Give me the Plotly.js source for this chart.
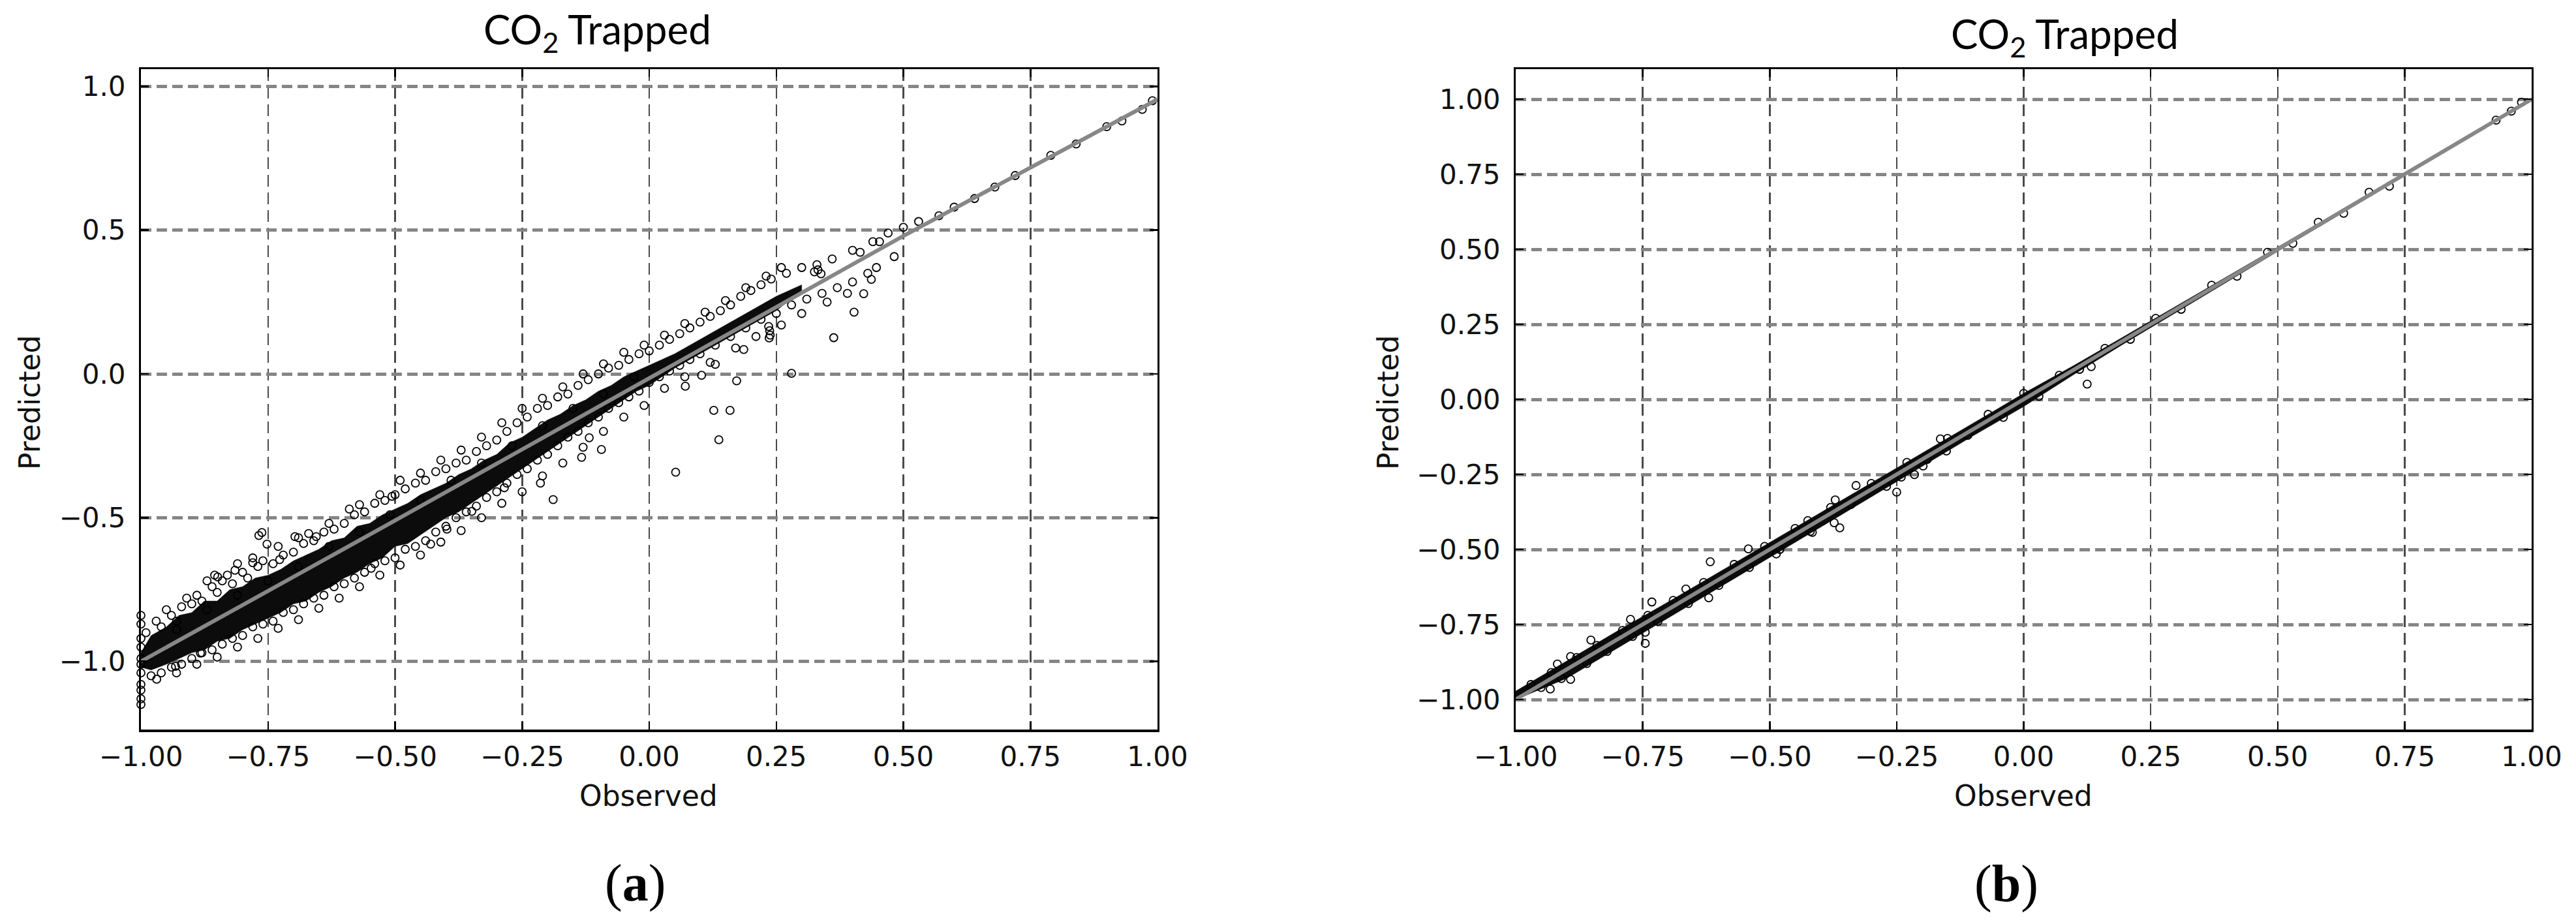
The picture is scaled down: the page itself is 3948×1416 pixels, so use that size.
<!DOCTYPE html>
<html>
<head>
<meta charset="utf-8">
<script src="https://cdn.plot.ly/plotly-3.0.1.min.js"></script>
<style>html,body{margin:0;padding:0;background:#fff;}#chart{width:3948px;height:1416px;}</style>
</head>
<body>
<div id="chart"></div>
<script>
// ---------------- DATA ----------------
const xTickVals = [-1.00, -0.75, -0.50, -0.25, 0.00, 0.25, 0.50, 0.75, 1.00];
const yTickValsA = [-1.0, -0.5, 0.0, 0.5, 1.0];
const yTickValsB = [-1.00, -0.75, -0.50, -0.25, 0.00, 0.25, 0.50, 0.75, 1.00];

// (a) dense core of the point cloud: observed, upper and lower predicted envelope
const coreObsA   = [-1.00, -0.98, -0.95, -0.925, -0.90, -0.875, -0.85, -0.825, -0.80, -0.775, -0.75, -0.725, -0.70, -0.675, -0.65, -0.625, -0.60, -0.575, -0.55, -0.525, -0.50, -0.475, -0.45, -0.425, -0.40, -0.375, -0.35, -0.325, -0.30, -0.275, -0.25, -0.225, -0.20, -0.175, -0.15, -0.125, -0.10, -0.075, -0.05, -0.025, 0.00, 0.05, 0.10, 0.15, 0.20, 0.25, 0.30];
const coreUpperA = [-0.97, -0.91, -0.88, -0.84, -0.83, -0.79, -0.79, -0.75, -0.74, -0.71, -0.70, -0.68, -0.65, -0.63, -0.61, -0.58, -0.57, -0.53, -0.52, -0.49, -0.47, -0.45, -0.42, -0.40, -0.38, -0.35, -0.33, -0.30, -0.28, -0.24, -0.22, -0.19, -0.16, -0.14, -0.11, -0.09, -0.06, -0.04, -0.01, 0.01, 0.03, 0.07, 0.12, 0.17, 0.22, 0.27, 0.31];
const coreLowerA = [-1.02, -1.03, -1.01, -0.99, -0.97, -0.96, -0.93, -0.92, -0.89, -0.87, -0.85, -0.83, -0.80, -0.79, -0.76, -0.74, -0.71, -0.69, -0.66, -0.64, -0.60, -0.59, -0.56, -0.53, -0.50, -0.48, -0.45, -0.42, -0.39, -0.36, -0.33, -0.30, -0.27, -0.24, -0.21, -0.18, -0.15, -0.12, -0.09, -0.06, -0.04, 0.02, 0.07, 0.12, 0.17, 0.22, 0.29];

// (a) points along the upper side of the cloud [observed, predicted]
const upperPtsA = [[-0.99,-0.90],[-0.97,-0.86],[-0.96,-0.88],[-0.94,-0.84],[-0.93,-0.86],[-0.92,-0.81],[-0.90,-0.80],[-0.89,-0.77],[-0.88,-0.79],[-0.86,-0.74],[-0.85,-0.76],[-0.84,-0.72],[-0.83,-0.70],[-0.82,-0.73],[-0.80,-0.69],[-0.79,-0.71],[-0.77,-0.67],[-0.76,-0.65],[-0.74,-0.66],[-0.72,-0.63],[-0.70,-0.62],[-0.68,-0.59],[-0.66,-0.58],[-0.64,-0.55],[-0.62,-0.54],[-0.60,-0.52],[-0.58,-0.49],[-0.56,-0.48],[-0.54,-0.45],[-0.52,-0.44],[-0.50,-0.42],[-0.48,-0.40],[-0.46,-0.38],[-0.44,-0.37],[-0.42,-0.34],[-0.40,-0.33],[-0.38,-0.31],[-0.36,-0.30],[-0.34,-0.27],[-0.32,-0.25],[-0.30,-0.23],[-0.28,-0.20],[-0.26,-0.17],[-0.24,-0.15],[-0.22,-0.12],[-0.20,-0.11],[-0.18,-0.08],[-0.16,-0.07],[-0.14,-0.04],[-0.12,-0.02],[-0.10,0.00],[-0.08,0.02],[-0.06,0.03],[-0.04,0.05],[-0.02,0.07],[0.00,0.08],[0.02,0.10],[0.04,0.12],[0.06,0.14],[0.08,0.16],[0.10,0.18],[0.12,0.20],[0.14,0.22],[0.16,0.24],[0.18,0.27],[0.20,0.29],[0.22,0.31],[0.24,0.33],[0.27,0.35],[0.30,0.37],[0.33,0.38],[0.36,0.40],[0.40,0.43],[0.44,0.46],[0.47,0.49],[0.50,0.51],[0.53,0.53],[0.57,0.55],[0.60,0.58],[0.64,0.61],[0.68,0.65],[0.72,0.69],[0.79,0.76],[0.84,0.80],[0.90,0.86],[0.93,0.88],[0.97,0.92],[0.99,0.95]];

// (a) further-out points on the upper side and inside the cloud
const scatterPtsA = [[-0.95,-0.82],[-0.91,-0.78],[-0.87,-0.72],[-0.855,-0.70],[-0.81,-0.66],[-0.78,-0.64],[-0.73,-0.60],[-0.69,-0.57],[-0.67,-0.555],[-0.63,-0.52],[-0.59,-0.47],[-0.57,-0.455],[-0.53,-0.42],[-0.49,-0.37],[-0.45,-0.345],[-0.41,-0.30],[-0.37,-0.265],[-0.33,-0.22],[-0.29,-0.17],[-0.25,-0.12],[-0.21,-0.085],[-0.17,-0.045],[-0.13,0.0],[-0.09,0.035],[-0.05,0.075],[-0.01,0.10],[0.03,0.135],[0.07,0.175],[0.11,0.215],[0.15,0.255],[0.19,0.30],[0.23,0.34],[0.26,0.37],
  [-0.93,-0.89],[-0.87,-0.82],[-0.81,-0.77],[-0.75,-0.72],[-0.69,-0.67],[-0.63,-0.60],[-0.57,-0.55],[-0.51,-0.49],[-0.45,-0.44],[-0.39,-0.37],[-0.33,-0.31],[-0.27,-0.25],[-0.21,-0.18],[-0.15,-0.12],[-0.09,-0.07],[-0.03,-0.01],
  [-0.93,-1.04],[-0.89,-1.01],[-0.85,-0.985],[-0.81,-0.95],[-0.77,-0.92],[-0.73,-0.885],[-0.69,-0.855],[-0.65,-0.815],[-0.61,-0.78],[-0.57,-0.74],[-0.53,-0.70],[-0.49,-0.665],[-0.45,-0.63],[-0.41,-0.585],[-0.37,-0.545],[-0.33,-0.50],[-0.29,-0.45],[-0.25,-0.41],[-0.21,-0.355],[-0.17,-0.31],[-0.13,-0.255],[-0.09,-0.20],[-0.05,-0.15],[-0.01,-0.11],[0.03,-0.05],[0.07,-0.01],[0.12,0.04],[0.17,0.09],[0.21,0.13],[0.26,0.17],[0.30,0.21],[0.35,0.25],[0.39,0.28]];

// (a) points along the lower side of the cloud
const lowerPtsA = [[-0.98,-1.05],[-0.96,-1.04],[-0.94,-1.02],[-0.92,-1.01],[-0.90,-0.99],[-0.88,-0.97],[-0.86,-0.96],[-0.84,-0.94],[-0.82,-0.92],[-0.80,-0.91],[-0.78,-0.88],[-0.76,-0.87],[-0.74,-0.86],[-0.72,-0.83],[-0.70,-0.82],[-0.68,-0.80],[-0.66,-0.78],[-0.64,-0.77],[-0.62,-0.74],[-0.60,-0.73],[-0.58,-0.71],[-0.56,-0.69],[-0.54,-0.66],[-0.52,-0.65],[-0.50,-0.64],[-0.48,-0.61],[-0.46,-0.60],[-0.44,-0.58],[-0.42,-0.55],[-0.40,-0.53],[-0.38,-0.50],[-0.36,-0.48],[-0.34,-0.46],[-0.32,-0.43],[-0.30,-0.41],[-0.28,-0.38],[-0.26,-0.35],[-0.24,-0.33],[-0.22,-0.30],[-0.20,-0.28],[-0.18,-0.25],[-0.16,-0.22],[-0.14,-0.20],[-0.12,-0.17],[-0.10,-0.15],[-0.08,-0.12],[-0.06,-0.10],[-0.04,-0.08],[-0.02,-0.06],[0.00,-0.03],[0.02,-0.01],[0.04,0.01],[0.06,0.03],[0.08,0.05],[0.10,0.07],[0.13,0.10],[0.16,0.13],[0.19,0.16],[0.22,0.19],[0.25,0.21],[0.28,0.24],[0.31,0.26],[0.34,0.28],[0.37,0.30],[0.40,0.32],[0.43,0.35],
  [0.235,0.165],[0.237,0.150],[0.238,0.135],[0.236,0.125],[0.325,0.355],[0.332,0.362],[0.338,0.348]];

// (a) points lying off the cloud
const outlierPtsA = [[0.363,0.126],[0.403,0.215],[0.422,0.279],[0.437,0.329],[0.447,0.370],[0.415,0.423],[0.453,0.460],[0.482,0.408],[0.280,0.002],[0.130,0.033],[0.103,-0.005],[0.172,-0.024],[0.071,-0.043],[0.127,-0.127],[0.159,-0.127],[0.137,-0.229],[0.186,0.085],[0.052,-0.342],[-0.214,-0.380],[-0.189,-0.437],[-0.133,-0.290],[-0.094,-0.263],[-0.118,-0.222],[-0.768,-0.562],[-0.762,-0.552],[-0.752,-0.592],[-0.697,-0.566],[-0.655,-0.566],[-0.780,-0.657],[-0.815,-0.683],[-0.849,-0.706],[-0.727,-0.646],[-0.547,-0.676],[-0.506,-0.426],[-0.430,-0.592],[-0.398,-0.540],[-0.349,-0.478],[-0.285,-0.396],[-0.969,-1.062],[-0.883,-0.971],[-0.932,-1.017]];

// (a) points at observed = -1
const edgeObsA  = [-1.0, -1.0, -1.0, -1.0, -1.0, -1.0, -1.0, -1.0, -1.0, -1.0, -1.0];
const edgePredA = [-0.84, -0.87, -0.92, -0.95, -0.99, -1.01, -1.04, -1.08, -1.10, -1.13, -1.15];

// (a) reference line
const lineObsA  = [-1.0, -0.5, 0.5, 1.0];
const linePredA = [-1.0, -0.51, 0.48, 0.955];

// (b) dense core
const coreObsB   = [-1.00, -0.90, -0.80, -0.70, -0.60, -0.50, -0.40, -0.30, -0.20, -0.10, 0.00, 0.10, 0.20, 0.30, 0.40, 0.50, 0.60, 0.70, 0.75];
const coreUpperB = [-0.972, -0.872, -0.772, -0.675, -0.576, -0.476, -0.378, -0.278, -0.180, -0.080, 0.020, 0.114, 0.212, 0.310, 0.409, 0.507, 0.606, 0.706, 0.754];
const coreLowerB = [-1.000, -0.930, -0.830, -0.728, -0.628, -0.527, -0.426, -0.325, -0.224, -0.122, -0.024, 0.084, 0.188, 0.290, 0.391, 0.493, 0.594, 0.694, 0.746];

// (b) points at the sides of the cloud
const sidePtsB = [[-0.97,-0.95],[-0.95,-0.96],[-0.93,-0.91],[-0.91,-0.93],[-0.88,-0.86],[-0.86,-0.88],[-0.84,-0.82],[-0.82,-0.84],[-0.79,-0.77],[-0.77,-0.79],[-0.74,-0.72],[-0.72,-0.74],[-0.69,-0.67],[-0.66,-0.68],[-0.63,-0.61],[-0.60,-0.62],[-0.57,-0.55],[-0.54,-0.56],[-0.51,-0.49],[-0.48,-0.50],[-0.45,-0.43],[-0.42,-0.44],[-0.38,-0.36],[-0.34,-0.35],[-0.30,-0.28],[-0.27,-0.29],[-0.23,-0.21],[-0.19,-0.20],[-0.15,-0.13],[-0.11,-0.12],[-0.07,-0.05],[-0.04,-0.06],[0.00,0.02],[0.03,0.01],[0.07,0.08],[0.11,0.10],[0.16,0.17],[0.21,0.20],[0.26,0.27],[0.31,0.30],[0.37,0.38],[0.42,0.41],[0.48,0.49],[0.53,0.52],[0.58,0.59],[0.63,0.62],[0.68,0.69],[0.72,0.71],[0.93,0.93],[0.96,0.96],[0.98,0.99]];

// (b) points lying off the cloud
const outlierPtsB = [[-0.164,-0.132],[-0.152,-0.172],[-0.198,-0.222],[-0.215,-0.251],[-0.250,-0.309],[-0.241,-0.259],[-0.330,-0.287],[-0.371,-0.335],[-0.373,-0.411],[-0.362,-0.428],[-0.425,-0.404],[-0.416,-0.443],[-0.487,-0.515],[-0.542,-0.498],[-0.617,-0.541],[-0.620,-0.661],[-0.665,-0.632],[-0.732,-0.675],[-0.745,-0.776],[-0.745,-0.813],[-0.774,-0.733],[-0.852,-0.802],[-0.892,-0.857],[-0.932,-0.965],[-0.918,-0.882],[-0.892,-0.933],[0.125,0.051],[0.133,0.109]];

// (b) reference line
const lineObsB  = [-1.0, 1.0];
const linePredB = [-1.0, 1.0];

// ---------------- STYLES ----------------
const ptMarker = {symbol: 'circle-open', size: 12, color: '#000', line: {width: 1.8, color: '#000'}};
const refLine = {color: '#878787', width: 6};
const coreFill = '#0c0c0c';

function band(obs, up, low) {
  return {x: obs.concat(obs.slice().reverse()), y: up.concat(low.slice().reverse())};
}
const bA = band(coreObsA, coreUpperA, coreLowerA);
const bB = band(coreObsB, coreUpperB, coreLowerB);
const ptsA = upperPtsA.concat(scatterPtsA, lowerPtsA, outlierPtsA);
const ptsB = sidePtsB.concat(outlierPtsB);

const traces = [
  {type: 'scatter', mode: 'lines', x: bA.x, y: bA.y, fill: 'toself', fillcolor: coreFill, line: {width: 0.5, color: coreFill}, xaxis: 'x', yaxis: 'y', hoverinfo: 'skip'},
  {type: 'scatter', mode: 'markers', x: ptsA.map(p => p[0]), y: ptsA.map(p => p[1]), marker: ptMarker, xaxis: 'x', yaxis: 'y'},
  {type: 'scatter', mode: 'markers', x: edgeObsA, y: edgePredA, marker: ptMarker, xaxis: 'x', yaxis: 'y', cliponaxis: false},
  {type: 'scatter', mode: 'lines', x: lineObsA, y: linePredA, line: refLine, xaxis: 'x', yaxis: 'y'},

  {type: 'scatter', mode: 'lines', x: bB.x, y: bB.y, fill: 'toself', fillcolor: coreFill, line: {width: 0.5, color: coreFill}, xaxis: 'x2', yaxis: 'y2', hoverinfo: 'skip'},
  {type: 'scatter', mode: 'markers', x: ptsB.map(p => p[0]), y: ptsB.map(p => p[1]), marker: ptMarker, xaxis: 'x2', yaxis: 'y2'},
  {type: 'scatter', mode: 'lines', x: lineObsB, y: linePredB, line: refLine, xaxis: 'x2', yaxis: 'y2'}
];

const W = 3948, H = 1416;
const tickFont = {family: 'DejaVu Sans', size: 42, color: '#111'};
function xAxis(domain, anchor) {
  return {domain: domain, anchor: anchor, range: [-1, 1], tickmode: 'array', tickvals: xTickVals, tickformat: '.2f',
    showgrid: true, gridcolor: '#4a4a4a', gridwidth: 2.5, griddash: '18px,9px', zeroline: false,
    showline: true, linecolor: '#000', linewidth: 3.5, mirror: 'ticks',
    ticks: 'inside', ticklen: 12, tickwidth: 2.5, tickcolor: '#000', tickfont: tickFont, ticklabelstandoff: 2};
}
function yAxis(domain, anchor, range, vals, fmt) {
  return {domain: domain, anchor: anchor, range: range, tickmode: 'array', tickvals: vals, tickformat: fmt,
    showgrid: true, gridcolor: '#858585', gridwidth: 5, griddash: '16px,8px', zeroline: false,
    showline: true, linecolor: '#000', linewidth: 3, mirror: 'ticks',
    ticks: 'inside', ticklen: 12, tickwidth: 2.5, tickcolor: '#000', tickfont: tickFont, ticklabelstandoff: 12};
}
const yDom = [1 - 1118 / H, 1 - 106 / H];

const ann = (text, px, py, font, angle) => ({text: text, x: px / W, y: 1 - py / H, xref: 'paper', yref: 'paper',
  xanchor: 'center', yanchor: 'middle', showarrow: false, font: font, textangle: angle || 0});
const titleFont = {family: 'Lato', size: 62, color: '#000'};
const labelFont = {family: 'DejaVu Sans', size: 44, color: '#111'};
const panelFont = {family: 'Liberation Serif', size: 80, color: '#000'};

const layout = {
  width: W, height: H, margin: {l: 0, r: 0, t: 0, b: 0}, paper_bgcolor: '#fff', plot_bgcolor: '#fff',
  showlegend: false,
  xaxis: xAxis([216 / W, 1774 / W], 'y'),
  yaxis: yAxis(yDom, 'x', [-1.237, 1.06], yTickValsA, '.1f'),
  xaxis2: xAxis([2323 / W, 3880 / W], 'y2'),
  yaxis2: yAxis(yDom, 'x2', [-1.1, 1.1], yTickValsB, '.2f'),
  annotations: [
    ann('CO<sub>2</sub> Trapped', 915, 48, titleFont),
    ann('CO<sub>2</sub> Trapped', 3164, 56, titleFont),
    ann('Predicted', 45, 617, labelFont, -90),
    ann('Predicted', 2127, 617, labelFont, -90),
    ann('Observed', 994, 1219, labelFont),
    ann('Observed', 3101, 1219, labelFont),
    ann('(<b>a</b>)', 973, 1353, panelFont),
    ann('(<b>b</b>)', 3075, 1354, panelFont)
  ]
};

Plotly.newPlot('chart', traces, layout, {staticPlot: true, displayModeBar: false});
</script>
</body>
</html>
